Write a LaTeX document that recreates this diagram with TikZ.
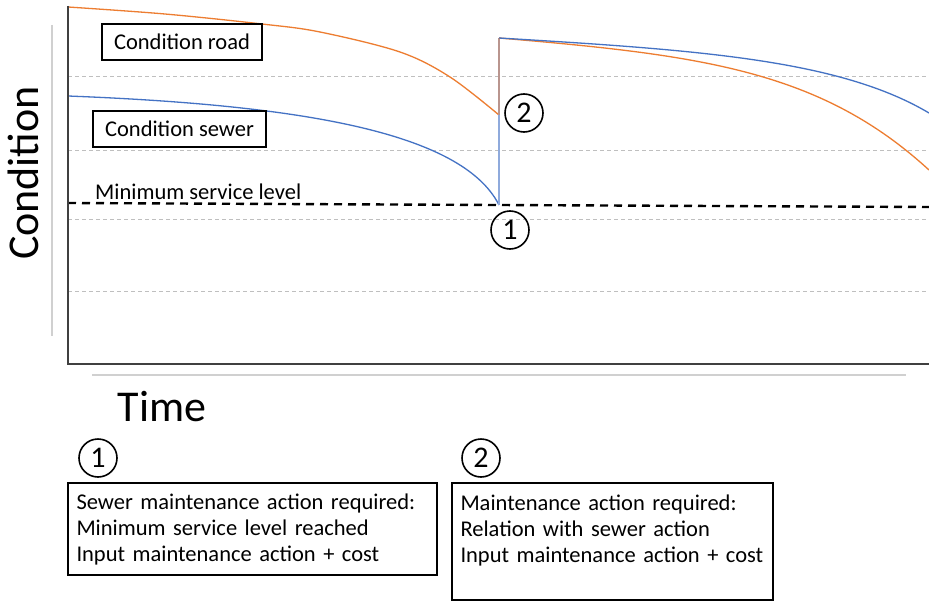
\documentclass[tikz,border=0pt]{standalone}
\usepackage{fontspec}
\setmainfont{Carlito}
\definecolor{roadc}{HTML}{ED7D31}
\definecolor{sewerc}{HTML}{4472C4}
\definecolor{jumpc}{HTML}{8FAADC}
\definecolor{gridc}{HTML}{BFBFBF}
\definecolor{axisc}{HTML}{404040}
\definecolor{faintc}{HTML}{D0D0D0}
\begin{document}
\begin{tikzpicture}[x=1pt,y=-1pt,
  axisline/.style={draw=axisc,line width=2pt},
  faintline/.style={draw=faintc,line width=1.6pt},
  gridline/.style={draw=gridc,line width=1pt,dash pattern=on 4pt off 3pt},
  minline/.style={draw=black,line width=2.4pt,dash pattern=on 8pt off 6pt},
  roadcurve/.style={draw=roadc,line width=1.3pt},
  sewercurve/.style={draw=sewerc,line width=1.3pt},
  smalltext/.style={font=\fontsize{22.5}{26}\selectfont},
  labelbox/.style={smalltext,draw,line width=1.2pt,rectangle,inner sep=0pt,minimum height=36pt},
  notebox/.style={smalltext,draw,line width=1.2pt,rectangle,inner xsep=8.5pt,inner ysep=4pt,align=left},
  numcircle/.style={circle,draw,line width=1.6pt,minimum size=38pt,inner sep=0pt,font=\fontsize{30}{30}\selectfont},
  bigtext/.style={font=\fontsize{44}{44}\selectfont}
]
\useasboundingbox (0,0) rectangle (929,602);
\fill[white] (0,0) rectangle (929,602);

% grid
\foreach \yy in {77,150,219,291} \draw[gridline] (68,\yy) -- (929,\yy);

% faint decorative axis lines
\coordinate (fv1) at (52,25); \coordinate (fv2) at (52,336);
\coordinate (fh1) at (92,375); \coordinate (fh2) at (906,375);
\draw[faintline] (fv1) -- (fv2);
\draw[faintline] (fh1) -- (fh2);

% minimum service level
\coordinate (m1) at (68,203); \coordinate (m2) at (929,207);
\draw[minline] (m1) -- (m2);

% curves
\coordinate (rstart) at (68,7);
\coordinate (sstart) at (68,96);
\coordinate (jtop) at (499,38);
\coordinate (rlow) at (499,115);
\coordinate (slow) at (499,205);
\coordinate (rend) at (929,170);
\coordinate (send) at (929,113);
\draw[roadcurve] plot[smooth,tension=0.55] coordinates {(68,7) (165,14) (262,24) (320,32) (400,52) (450,77) (499,115)};
\draw[sewercurve] (sstart) .. controls (300,105) and (462,132) .. (slow);
\draw[draw=jumpc,line width=1.6pt] (slow) -- (jtop);
\draw[draw=roadc,line width=1.3pt,opacity=0.45] (rlow) -- (jtop);
\draw[roadcurve] (jtop) .. controls (700,55) and (820,70) .. (rend);
\draw[sewercurve] (jtop) .. controls (700,50) and (840,60) .. (send);

% axes
\coordinate (ytop) at (68,6); \coordinate (orig) at (68,364); \coordinate (xend) at (929,364);
\draw[axisline] (ytop) -- (orig) -- (xend);

% labels
\node[labelbox,minimum width=160pt] (road) at (182,42) {Condition road};
\node[labelbox,minimum width=173pt] (sewer) at (179.5,129) {Condition sewer};
\node[smalltext,anchor=base west,inner sep=0pt] (minlabel) at (95,199) {Minimum service level};

\node[numcircle] (c2) at (524,113) {2};
\node[numcircle] (c1) at (510,230) {1};

\node[bigtext,rotate=90] (ylabel) at (23,173) {Condition};
\node[bigtext] (xlabel) at (162,407) {Time};

\node[numcircle] (b1) at (98,458) {1};
\node[numcircle] (b2) at (481,458) {2};

\node[notebox,text width=352pt,minimum height=92pt] (box1) at (252.5,529)
  {Sewer maintenance action required:\\Minimum service level reached\\Input maintenance action + cost};
\node[notebox,text width=304pt,minimum height=117pt] (box2) at (612.5,541.5)
  {Maintenance action required:\\Relation with sewer action\\Input maintenance action + cost\\~};
\end{tikzpicture}
\end{document}
